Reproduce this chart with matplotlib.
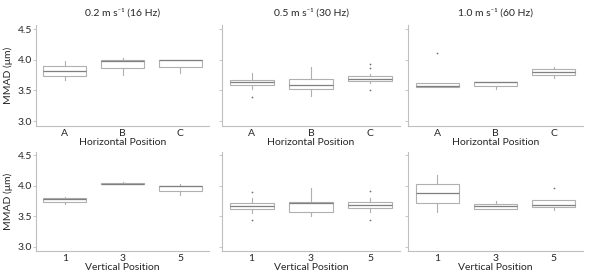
import matplotlib
matplotlib.use("Agg")
import matplotlib.pyplot as plt

plt.rcParams['font.family'] = ['Lato', 'DejaVu Sans']

titles = ["0.2 m s⁻¹ (16 Hz)", "0.5 m s⁻¹ (30 Hz)", "1.0 m s⁻¹ (60 Hz)"]
horiz_labels = ["A", "B", "C"]
vert_labels = ["1", "3", "5"]

# Horizontal position (top row): per speed, per category
h_whislo = [[3.67, 3.76, 3.79], [3.53, 3.41, 3.62], [3.56, 3.53, 3.71]]
h_q1     = [[3.74, 3.86, 3.89], [3.59, 3.52, 3.66], [3.56, 3.575, 3.76]]
h_med    = [[3.82, 3.98, 4.00], [3.645, 3.59, 3.68], [3.58, 3.64, 3.81]]
h_q3     = [[3.90, 4.00, 4.00], [3.67, 3.69, 3.74], [3.62, 3.645, 3.85]]
h_whishi = [[3.98, 4.03, 4.00], [3.78, 3.89, 3.77], [3.62, 3.645, 3.89]]
h_fliers = [[[], [], []], [[3.40], [], [3.94, 3.86, 3.51]], [[4.11], [], []]]

# Vertical position (bottom row)
v_whislo = [[3.70, 4.02, 3.85], [3.55, 3.51, 3.57], [3.57, 3.61, 3.60]]
v_q1     = [[3.73, 4.02, 3.92], [3.61, 3.57, 3.64], [3.72, 3.61, 3.65]]
v_med    = [[3.78, 4.03, 4.00], [3.67, 3.71, 3.68], [3.875, 3.66, 3.68]]
v_q3     = [[3.79, 4.04, 4.00], [3.72, 3.73, 3.73], [4.02, 3.70, 3.76]]
v_whishi = [[3.81, 4.055, 4.03], [3.79, 3.96, 3.79], [4.175, 3.75, 3.76]]
v_fliers = [[[], [], []], [[3.90, 3.43], [], [3.92, 3.43]], [[], [], [3.96]]]

W, H = 595, 278
fig = plt.figure(figsize=(W / 100, H / 100), dpi=100)

cols = [(36, 173), (222, 178), (408, 175)]
rows = [(25, 101), (152, 99)]

grey = "#bfbfbf"
edge = "#b0b0b0"
medc = "#7f7f7f"
txt = "#262626"
fs = 7.5

def make_stats(lo, q1, med, q3, hi, fl):
    return [dict(whislo=lo[i], q1=q1[i], med=med[i], q3=q3[i], whishi=hi[i], fliers=fl[i])
            for i in range(3)]

for r in range(2):
    top, hgt = rows[r]
    for c in range(3):
        left, wid = cols[c]
        ax = fig.add_axes([left / W, 1 - (top + hgt) / H, wid / W, hgt / H])
        if r == 0:
            stats = make_stats(h_whislo[c], h_q1[c], h_med[c], h_q3[c], h_whishi[c], h_fliers[c])
            labels = horiz_labels
            xlabel = "Horizontal Position"
            ax.set_ylim(2.92, 4.57)
            ax.set_title(titles[c], fontsize=fs, color=txt, pad=7)
        else:
            stats = make_stats(v_whislo[c], v_q1[c], v_med[c], v_q3[c], v_whishi[c], v_fliers[c])
            labels = vert_labels
            xlabel = "Vertical Position"
            ax.set_ylim(2.93, 4.55)
        ax.bxp(stats, positions=[0, 1, 2], widths=0.74, patch_artist=True, showcaps=False,
               boxprops=dict(facecolor="white", edgecolor=edge, linewidth=0.8),
               medianprops=dict(color=medc, linewidth=0.9),
               whiskerprops=dict(color=edge, linewidth=0.8),
               flierprops=dict(marker='o', markersize=0.9, markerfacecolor="#707070",
                               markeredgecolor="#707070", markeredgewidth=0.3, linestyle='none'))
        ax.set_xlim(-0.5, 2.5)
        ax.set_xticks([0, 1, 2])
        ax.set_xticklabels(labels)
        ax.set_xlabel(xlabel, fontsize=fs, color=txt, labelpad=0)
        ax.set_yticks([3.0, 3.5, 4.0, 4.5])
        if c == 0:
            ax.set_yticklabels(["3.0", "3.5", "4.0", "4.5"])
            ax.set_ylabel("MMAD (μm)", fontsize=fs, color=txt, labelpad=3)
        else:
            ax.set_yticklabels([])
        for s in ["top", "right"]:
            ax.spines[s].set_visible(False)
        for s in ["left", "bottom"]:
            ax.spines[s].set_color(grey)
            ax.spines[s].set_linewidth(0.8)
        ax.tick_params(axis='both', labelsize=fs, colors=txt, length=2, width=0.6, pad=1)
        ax.tick_params(axis='both', color=grey)
        ax.tick_params(axis='x', length=0, pad=2)

fig.savefig("out.png", dpi=100)
